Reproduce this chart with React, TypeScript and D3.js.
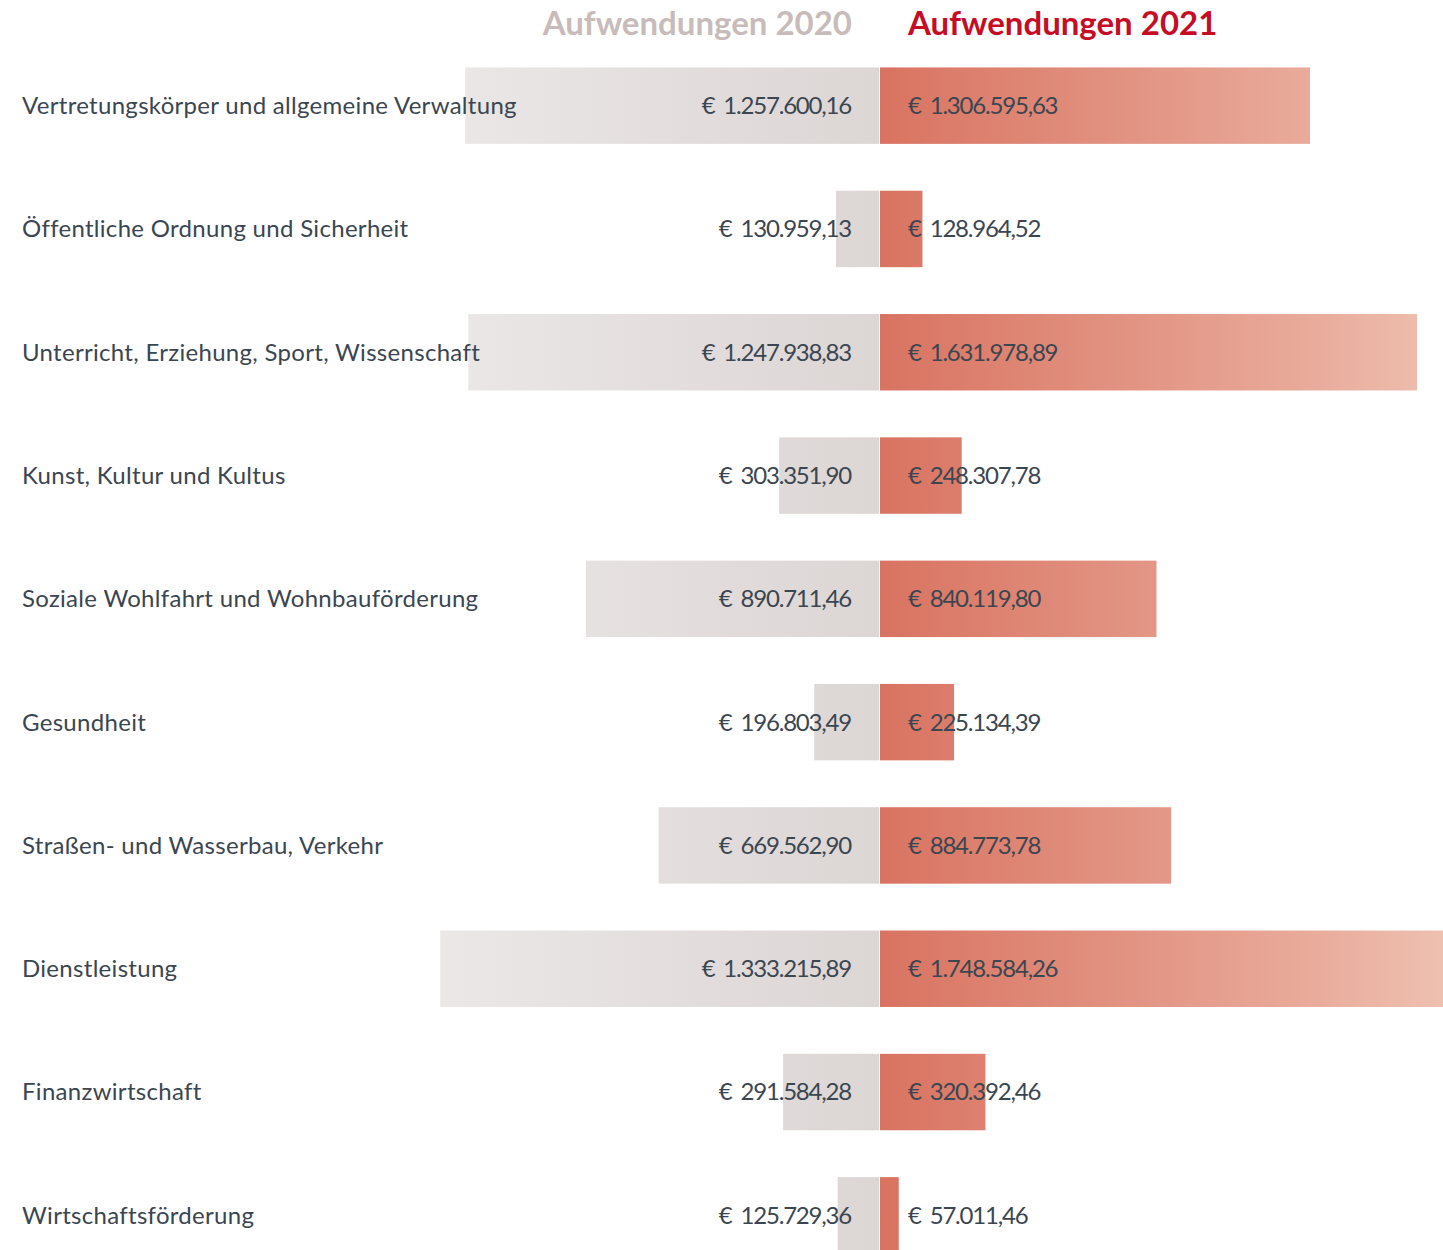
import * as d3 from "d3";
import { useEffect, useRef } from "react";

const categories = [
  "Vertretungskörper und allgemeine Verwaltung",
  "Öffentliche Ordnung und Sicherheit",
  "Unterricht, Erziehung, Sport, Wissenschaft",
  "Kunst, Kultur und Kultus",
  "Soziale Wohlfahrt und Wohnbauförderung",
  "Gesundheit",
  "Straßen- und Wasserbau, Verkehr",
  "Dienstleistung",
  "Finanzwirtschaft",
  "Wirtschaftsförderung",
];

const values2020 = [
  1257600.16, 130959.13, 1247938.83, 303351.9, 890711.46, 196803.49, 669562.9,
  1333215.89, 291584.28, 125729.36,
];

const values2021 = [
  1306595.63, 128964.52, 1631978.89, 248307.78, 840119.8, 225134.39, 884773.78,
  1748584.26, 320392.46, 57011.46,
];

const seriesTitles = ["Aufwendungen 2020", "Aufwendungen 2021"];

const width = 1443;
const height = 1250;

const fmt = (v: number) => {
  const [int, dec] = v.toFixed(2).split(".");
  return "€ " + int.replace(/\B(?=(\d{3})+(?!\d))/g, ".") + "," + dec;
};

const App = () => {
  const ref = useRef<SVGSVGElement>(null);

  useEffect(() => {
    const svg = d3.select(ref.current);
    svg.selectAll("*").remove();

    const center = 879;
    const font = "Lato, 'Open Sans', sans-serif";
    const textColor = "#3b4650";

    const y = d3
      .scaleBand()
      .domain(categories)
      .range([44, 1277])
      .paddingInner(0.38)
      .paddingOuter(0.19);

    const x = d3.scaleLinear().domain([0, 1306595.63]).range([0, 430]);

    const defs = svg.append("defs");
    const gLeft = defs
      .append("linearGradient")
      .attr("id", "gradLeft")
      .attr("gradientUnits", "userSpaceOnUse")
      .attr("x1", center - x(1748584.26))
      .attr("x2", center)
      .attr("y1", 0)
      .attr("y2", 0);
    gLeft.append("stop").attr("offset", 0).attr("stop-color", "#efedec");
    gLeft.append("stop").attr("offset", 1).attr("stop-color", "#dcd6d5");

    const gRight = defs
      .append("linearGradient")
      .attr("id", "gradRight")
      .attr("gradientUnits", "userSpaceOnUse")
      .attr("x1", center + 1)
      .attr("x2", center + 1 + x(1748584.26))
      .attr("y1", 0)
      .attr("y2", 0);
    gRight.append("stop").attr("offset", 0).attr("stop-color", "#d97361");
    gRight.append("stop").attr("offset", 0.75).attr("stop-color", "#e9ab9b");
    gRight.append("stop").attr("offset", 1).attr("stop-color", "#eec2b2");

    // titles
    svg
      .append("text")
      .attr("x", 852)
      .attr("y", 35)
      .attr("text-anchor", "end")
      .attr("font-family", font)
      .attr("font-weight", 700)
      .attr("font-size", 33)
      .attr("fill", "#c8bcba")
      .text(seriesTitles[0]);
    svg
      .append("text")
      .attr("x", 908)
      .attr("y", 35)
      .attr("font-family", font)
      .attr("font-weight", 700)
      .attr("font-size", 33)
      .attr("fill", "#c60d26")
      .text(seriesTitles[1]);

    const rows = svg
      .append("g")
      .selectAll("g")
      .data(categories)
      .join("g")
      .attr("transform", (d) => `translate(0,${y(d)})`);

    rows
      .append("rect")
      .attr("x", (_, i) => center - x(values2020[i]))
      .attr("width", (_, i) => x(values2020[i]))
      .attr("height", y.bandwidth())
      .attr("fill", "url(#gradLeft)");

    rows
      .append("rect")
      .attr("x", center + 1)
      .attr("width", (_, i) => x(values2021[i]))
      .attr("height", y.bandwidth())
      .attr("fill", "url(#gradRight)");

    const mid = y.bandwidth() / 2;

    rows
      .append("text")
      .attr("x", 22)
      .attr("y", mid)
      .attr("dy", "0.35em")
      .attr("font-family", font)
      .attr("font-size", 24)
      .attr("letter-spacing", 0.3)
      .attr("fill", textColor)
      .text((d) => d);

    rows
      .append("text")
      .attr("x", 851)
      .attr("y", mid)
      .attr("dy", "0.35em")
      .attr("text-anchor", "end")
      .attr("font-family", font)
      .attr("font-size", 24)
      .attr("letter-spacing", -1.2)
      .attr("word-spacing", 4)
      .attr("fill", textColor)
      .text((_, i) => fmt(values2020[i]));

    rows
      .append("text")
      .attr("x", 908)
      .attr("y", mid)
      .attr("dy", "0.35em")
      .attr("font-family", font)
      .attr("font-size", 24)
      .attr("letter-spacing", -1.2)
      .attr("word-spacing", 4)
      .attr("fill", textColor)
      .text((_, i) => fmt(values2021[i]));
  }, []);

  return (
    <svg
      ref={ref}
      width={width}
      height={height}
      style={{ position: "absolute", left: 0, top: 0, background: "#fff" }}
    />
  );
};

export default App;
